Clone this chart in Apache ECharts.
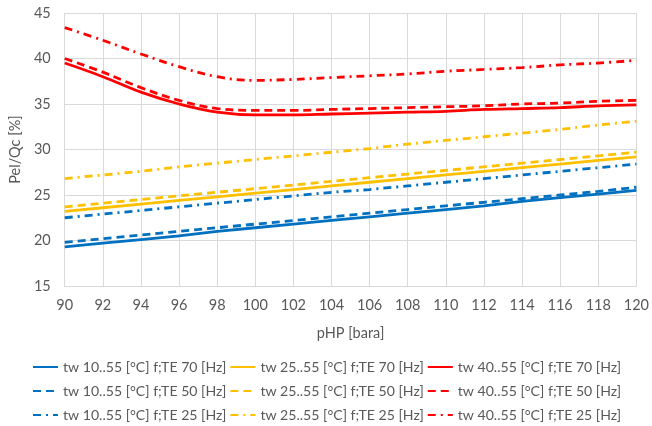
<!DOCTYPE html>
<html><head><meta charset="utf-8">
<script src="https://cdn.jsdelivr.net/npm/echarts@6/dist/echarts.min.js"></script>
<style>html,body{margin:0;padding:0;background:#fff}#c{width:652px;height:426px}</style>
</head><body><div id="c"></div>
<script>
const pressures = [90,92,94,96,98,100,102,104,106,108,110,112,114,116,118,120];
const tw10_70 = [19.3,19.7,20.1,20.5,21.0,21.4,21.8,22.2,22.6,23.0,23.4,23.8,24.3,24.7,25.1,25.5];
const tw25_70 = [23.2,23.6,24.0,24.4,24.8,25.2,25.6,26.0,26.4,26.8,27.2,27.6,28.0,28.4,28.8,29.2];
const tw40_70 = [39.5,38.0,36.3,35.0,34.1,33.8,33.8,33.9,34.0,34.1,34.2,34.4,34.5,34.6,34.8,34.9];
const tw10_50 = [19.8,20.2,20.6,21.0,21.4,21.8,22.2,22.6,23.0,23.4,23.8,24.2,24.6,25.0,25.4,25.85];
const tw25_50 = [23.7,24.1,24.5,24.9,25.3,25.7,26.1,26.5,26.9,27.3,27.7,28.1,28.5,28.9,29.3,29.7];
const tw40_50 = [40.0,38.5,36.8,35.4,34.5,34.3,34.3,34.4,34.5,34.6,34.7,34.8,35.0,35.1,35.3,35.4];
const tw10_25 = [22.5,22.9,23.3,23.7,24.1,24.5,24.9,25.3,25.6,26.0,26.4,26.8,27.2,27.6,28.0,28.4];
const tw25_25 = [26.8,27.2,27.6,28.1,28.5,28.9,29.3,29.7,30.1,30.6,31.0,31.4,31.8,32.2,32.7,33.1];
const tw40_25 = [43.4,42.0,40.5,39.1,38.0,37.6,37.7,37.9,38.1,38.3,38.6,38.8,39.0,39.3,39.5,39.8];
const names = [
 ['tw 10..55 [°C] f;TE 70 [Hz]','tw 25..55 [°C] f;TE 70 [Hz]','tw 40..55 [°C] f;TE 70 [Hz]'],
 ['tw 10..55 [°C] f;TE 50 [Hz]','tw 25..55 [°C] f;TE 50 [Hz]','tw 40..55 [°C] f;TE 50 [Hz]'],
 ['tw 10..55 [°C] f;TE 25 [Hz]','tw 25..55 [°C] f;TE 25 [Hz]','tw 40..55 [°C] f;TE 25 [Hz]']
];
const values = [[tw10_70,tw25_70,tw40_70],[tw10_50,tw25_50,tw40_50],[tw10_25,tw25_25,tw40_25]];
const colors = ['#0070C0','#FFC000','#FF0000'];
const dashes = ['solid',[8,5],[8,5,2,5]];
const FONT = 'Lato';
const series = [];
for (let r=0;r<3;r++) for (let c=0;c<3;c++) {
  series.push({
    name: names[r][c], type:'line', symbol:'none', smooth: c===2 ? 0.4 : false,
    data: pressures.map((p,i)=>[p, values[r][c][i]]),
    lineStyle:{color:colors[c], width:2.8, type:dashes[r], cap:'butt'},
    itemStyle:{color:colors[c]}
  });
}
const legends = [0,1,2].map(r=>({
  top: 355 + r*24, left: 27, itemWidth: 25, itemHeight: 10, itemGap: 3,
  itemStyle:{opacity:0},
  textStyle:{color:'#595959', fontSize:14.1, fontFamily:FONT},
  data: names[r]
}));
const chart = echarts.init(document.getElementById('c'));
chart.setOption({
  animation:false,
  grid:{left:57, right:15, top:13, bottom:140},
  legend: legends,
  xAxis:{type:'value', min:90, max:120, interval:2,
    name:'pHP [bara]', nameLocation:'middle', nameGap:40,
    nameTextStyle:{color:'#595959', fontSize:14.5, fontFamily:FONT},
    axisLine:{show:true, lineStyle:{color:'#d9d9d9'}}, axisTick:{show:false},
    axisLabel:{color:'#595959', fontSize:14.5, fontFamily:FONT, margin:12},
    splitLine:{show:true, lineStyle:{color:'#d9d9d9'}}},
  yAxis:{type:'value', min:15, max:45, interval:5,
    name:'Pel/Qc [%]', nameLocation:'middle', nameGap:34,
    nameTextStyle:{color:'#595959', fontSize:14.5, fontFamily:FONT},
    axisLine:{show:false}, axisTick:{show:false},
    axisLabel:{color:'#595959', fontSize:14.5, fontFamily:FONT, margin:14},
    splitLine:{show:true, lineStyle:{color:'#d9d9d9'}}},
  series
});
</script></body></html>
